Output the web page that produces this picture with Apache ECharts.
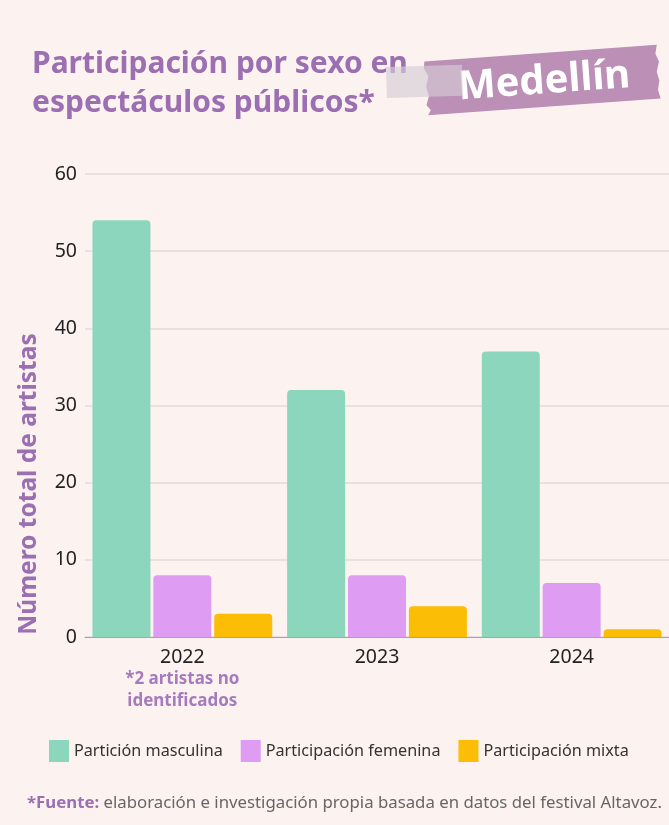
<!DOCTYPE html>
<html>
<head>
<meta charset="utf-8">
<script src="https://cdn.jsdelivr.net/npm/echarts@6/dist/echarts.min.js"></script>
<style>
  html, body { margin: 0; padding: 0; background: #fcf3f0; }
  #chart { width: 669px; height: 825px; }
</style>
</head>
<body>
<div id="chart"></div>
<script>
// datos
var years = ['2022', '2023', '2024']
var masculina = [54, 32, 37]
var femenina = [8, 8, 7]
var mixta = [3, 4, 1]
var yTicks = [0, 10, 20, 30, 40, 50, 60]
var seriesNames = ['Partición masculina', 'Participación femenina', 'Participación mixta']

var purple = '#9b6fb1'
var chart = echarts.init(document.getElementById('chart'))

var option = {
  backgroundColor: '#fcf3f0',
  textStyle: { fontFamily: 'Noto Sans' },
  color: ['#8dd6be', '#df9cf3', '#fcbd06'],
  grid: { left: 85, right: 0, top: 174, bottom: 188 },
  legend: {
    left: 44,
    top: 735,
    itemWidth: 20,
    itemHeight: 22,
    itemGap: 18,
    icon: 'rect',
    textStyle: { fontSize: 16.2, color: '#333', padding: [0, 0, 0, 0] },
    data: seriesNames
  },
  xAxis: {
    type: 'category',
    data: years,
    axisTick: { show: false },
    axisLine: { lineStyle: { color: '#a9a3a6', width: 1 } },
    axisLabel: {
      interval: 0,
      hideOverlap: false,
      margin: 9,
      fontSize: 19.5,
      color: '#222',
      lineHeight: 22,
      formatter: function (v) {
        if (v === '2022') return v + '\n{n|*2 artistas no}\n{n|identificados}'
        return v
      },
      rich: {
        n: { fontSize: 17, fontWeight: 'bold', color: '#a57bbd', lineHeight: 22 }
      }
    }
  },
  yAxis: {
    type: 'value',
    min: 0,
    max: 60,
    interval: 10,
    axisLine: { show: false },
    axisTick: { show: false },
    axisLabel: {
      margin: 8,
      fontSize: 19.5,
      color: '#222',
      formatter: function (v) { return yTicks.indexOf(v) >= 0 ? String(v) : '' }
    },
    splitLine: { lineStyle: { color: '#e6dadd', width: 1.5 } }
  },
  series: [
    { name: seriesNames[0], type: 'bar', data: masculina, barWidth: 58, barGap: '5%', itemStyle: { borderRadius: [4, 4, 0, 0] } },
    { name: seriesNames[1], type: 'bar', data: femenina, barWidth: 58, barGap: '5%', itemStyle: { borderRadius: [4, 4, 0, 0] } },
    { name: seriesNames[2], type: 'bar', data: mixta, barWidth: 58, barGap: '5%', itemStyle: { borderRadius: [4, 4, 0, 0] } }
  ],
  graphic: [
    // titulo
    {
      type: 'text', left: 32, top: 45,
      style: { text: 'Participación por sexo en\nespectáculos públicos*', fontFamily: 'Noto Sans', fontSize: 30, fontWeight: 'bold', fill: purple, lineHeight: 39 }
    },
    // etiqueta Medellín
    {
      type: 'group',
      x: 542, y: 80,
      rotation: 0.072,
      children: [
        {
          type: 'polygon',
          shape: {
            points: [[-116, -27], [117, -27], [115, -18], [118, -10], [115, 0], [117, 9], [115, 18], [117, 27],
              [-116, 27], [-113, 22], [-117, 17], [-114, 8], [-116, -2], [-113, -12], [-117, -20]]
          },
          style: { fill: '#bb8fb6' }
        },
        {
          type: 'text', x: 2, y: 2,
          style: { text: 'Medellín', fontFamily: 'Noto Sans', fontSize: 40, fontWeight: 'bold', fill: '#fff', align: 'center', verticalAlign: 'middle' }
        }
      ]
    },
    {
      type: 'rect',
      x: 386, y: 67,
      rotation: 0.03,
      shape: { x: 0, y: 0, width: 76, height: 31 },
      style: { fill: 'rgba(214,204,214,0.65)' }
    },
    // nombre eje y
    {
      type: 'text',
      x: 29, y: 484,
      rotation: Math.PI / 2,
      style: { text: 'Número total de artistas', fontFamily: 'Noto Sans', fontSize: 24.5, fontWeight: 'bold', fill: purple, align: 'center', verticalAlign: 'middle' }
    },
    // fuente
    {
      type: 'text', left: 27, top: 795,
      style: {
        text: '{b|*Fuente:} elaboración e investigación propia basada en datos del festival Altavoz.',
        fontFamily: 'Noto Sans', fontSize: 16.8, fill: '#666',
        rich: { b: { fontFamily: 'Noto Sans', fontSize: 16.8, fontWeight: 'bold', fill: purple } }
      }
    }
  ]
}
chart.setOption(option)
</script>
</body>
</html>
